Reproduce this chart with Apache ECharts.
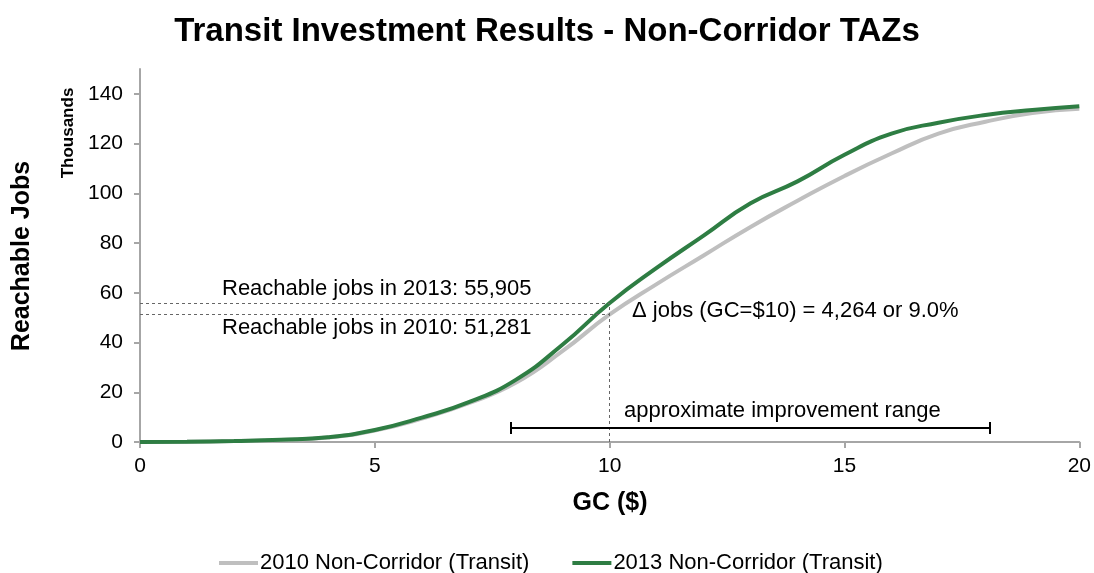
<!DOCTYPE html>
<html><head><meta charset="utf-8">
<script src="https://cdn.jsdelivr.net/npm/echarts@6/dist/echarts.min.js"></script>
<style>html,body{margin:0;padding:0;background:#fff}#c{width:1094px;height:573px}</style>
</head><body><div id="c"></div>
<script>
const gcValues = [0,1,2,3,4,5,6,7,8,9,10,11,12,13,14,15,16,17,18,19,20];
const jobs2010 = [0,0.1,0.4,0.8,1.8,4.6,9.4,15.6,23.8,36.6,51.281,63.5,75,86.5,97,107,116,124,128.8,132.3,134];
const jobs2013 = [0,0.1,0.4,0.9,1.9,4.8,9.8,16,25,39.2,55.905,70,83,96,104.8,115.5,124,128.4,131.5,133.5,135];
const yTicks = [0,20,40,60,80,100,120,140];
const xTicks = [0,5,10,15,20];
const seriesNames = ['2010 Non-Corridor (Transit)','2013 Non-Corridor (Transit)'];
const refGC = 10, ref2010 = 51.281, ref2013 = 55.905;
const rangeStart = 7.89, rangeEnd = 18.09, rangeY = 5.63, capLo = 3.2, capHi = 8.0;

const font = '"Liberation Sans", Arial, sans-serif';
const chart = echarts.init(document.getElementById('c'), null, {renderer:'canvas'});
const dash = {type:[3,3], color:'#666', width:1};
chart.setOption({
  animation:false,
  textStyle:{fontFamily:font},
  title:{text:'Transit Investment Results - Non-Corridor TAZs', left:'center', top:10,
    textStyle:{fontFamily:font, fontSize:33, fontWeight:'bold', color:'#000'}},
  grid:{left:140, right:14, top:69, bottom:131, containLabel:false},
  legend:{left:214, top:547, icon:'rect', itemWidth:39, itemHeight:4, itemGap:43,
    textStyle:{fontFamily:font, fontSize:22, color:'#000', padding:[0,0,0,-3]},
    data:seriesNames},
  xAxis:{type:'value', min:0, max:20, interval:5,
    axisLine:{lineStyle:{color:'#a6a6a6', width:2}},
    axisTick:{show:true, length:6, lineStyle:{color:'#a6a6a6', width:2}},
    splitLine:{show:false},
    axisLabel:{fontFamily:font, fontSize:21, color:'#000', margin:14, customValues:xTicks}},
  yAxis:{type:'value', min:0, max:150,
    axisLine:{show:true, lineStyle:{color:'#a6a6a6', width:2}},
    axisTick:{show:true, length:6, lineStyle:{color:'#a6a6a6', width:2}, customValues:yTicks},
    splitLine:{show:false},
    axisLabel:{fontFamily:font, fontSize:21, color:'#000', margin:17, customValues:yTicks}},
  graphic:[
    {type:'text', x:22, y:256, rotation:Math.PI/2, style:{text:'Reachable Jobs', fontFamily:font, fontSize:25, fontWeight:'bold', fill:'#000', textAlign:'center', textVerticalAlign:'middle'}},
    {type:'text', x:68, y:133, rotation:Math.PI/2, style:{text:'Thousands', fontFamily:font, fontSize:17, fontWeight:'bold', fill:'#000', textAlign:'center', textVerticalAlign:'middle'}},
    {type:'text', x:610, y:503, style:{text:'GC ($)', fontFamily:font, fontSize:25, fontWeight:'bold', fill:'#000', textAlign:'center', textVerticalAlign:'middle'}},
    {type:'text', x:222, y:289, style:{text:'Reachable jobs in 2013: 55,905', fontFamily:font, fontSize:22, fill:'#000', textAlign:'left', textVerticalAlign:'middle'}},
    {type:'text', x:222, y:328, style:{text:'Reachable jobs in 2010: 51,281', fontFamily:font, fontSize:22, fill:'#000', textAlign:'left', textVerticalAlign:'middle'}},
    {type:'text', x:632, y:311, style:{text:'\u0394 jobs (GC=$10) = 4,264 or 9.0%', fontFamily:font, fontSize:22, fill:'#000', textAlign:'left', textVerticalAlign:'middle'}},
    {type:'text', x:624, y:411, style:{text:'approximate improvement range', fontFamily:font, fontSize:22, fill:'#000', textAlign:'left', textVerticalAlign:'middle'}}
  ],
  series:[
    {name:seriesNames[0], type:'line', smooth:0.5, showSymbol:false, symbol:'none', z:2,
     lineStyle:{color:'#bfbfbf', width:4}, itemStyle:{color:'#bfbfbf'},
     data:gcValues.map((g,i)=>[g,jobs2010[i]])},
    {name:seriesNames[1], type:'line', smooth:0.5, showSymbol:false, symbol:'none', z:3,
     lineStyle:{color:'#2e7d43', width:4}, itemStyle:{color:'#2e7d43'},
     data:gcValues.map((g,i)=>[g,jobs2013[i]]),
     markLine:{silent:true, symbol:['none','none'], label:{show:false}, animation:false,
       data:[
         [{coord:[0,ref2013], lineStyle:dash},{coord:[refGC,ref2013]}],
         [{coord:[0,ref2010], lineStyle:dash},{coord:[refGC,ref2010]}],
         [{coord:[refGC,0], lineStyle:dash},{coord:[refGC,ref2013]}],
         [{coord:[rangeStart,rangeY], lineStyle:{type:'solid',color:'#000',width:2}},{coord:[rangeEnd,rangeY]}],
         [{coord:[rangeStart,capLo], lineStyle:{type:'solid',color:'#000',width:2}},{coord:[rangeStart,capHi]}],
         [{coord:[rangeEnd,capLo], lineStyle:{type:'solid',color:'#000',width:2}},{coord:[rangeEnd,capHi]}]
       ]}}
  ]
});
</script></body></html>
